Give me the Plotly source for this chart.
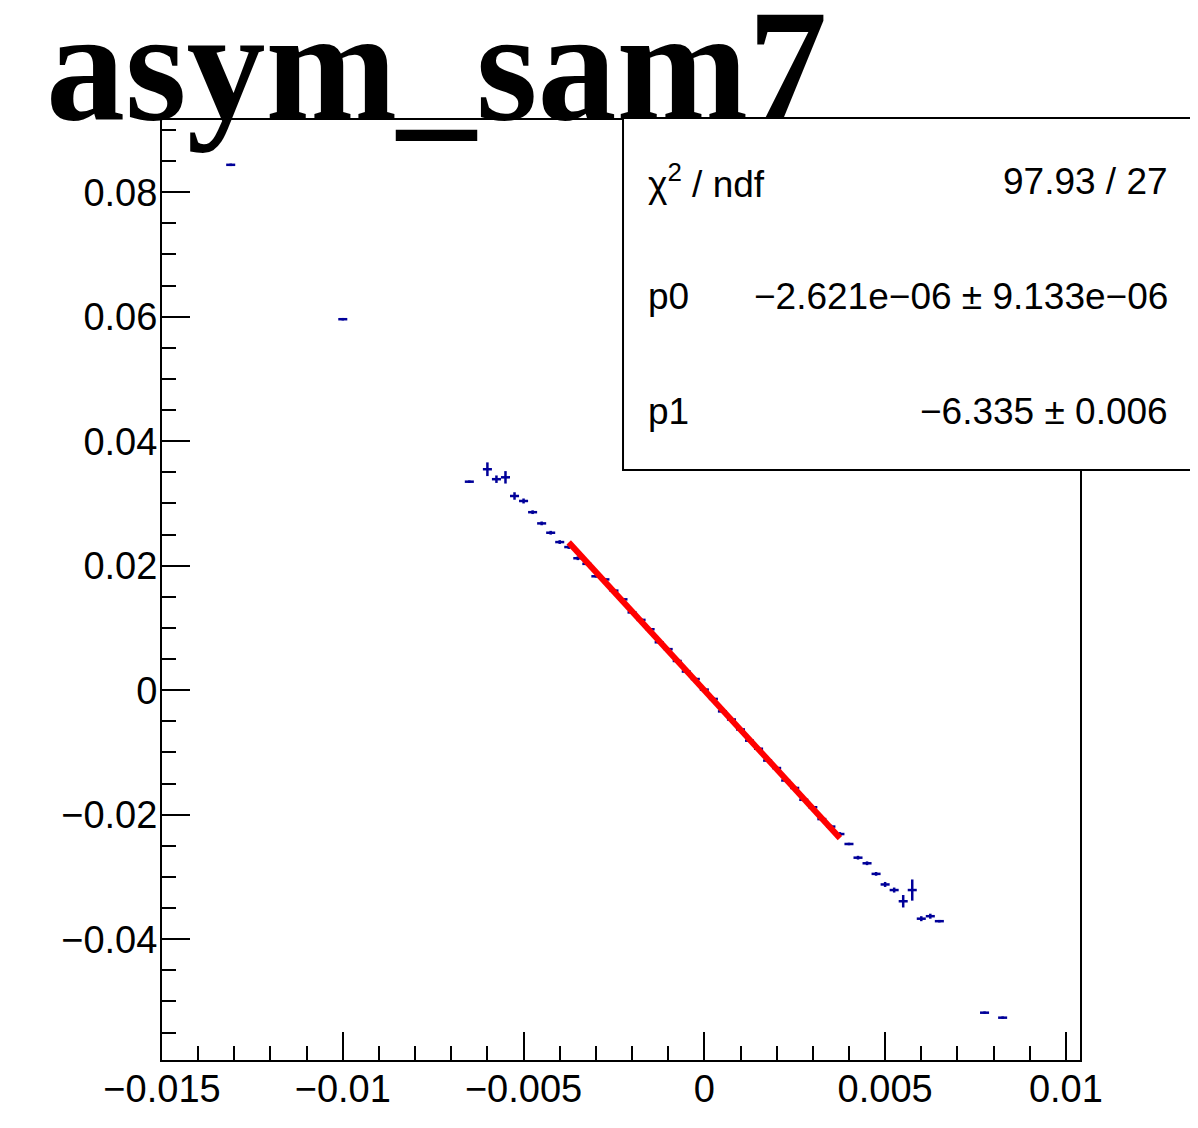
import plotly.graph_objects as go

# -- datos (perfil asym_sam7)
x_vals = [-0.0131, -0.01, -0.0065, -0.006, -0.00575, -0.0055, -0.00525, -0.005, -0.00475, -0.0045,
          -0.00425, -0.004, -0.00375, -0.0035, -0.00325, -0.003, -0.00275, -0.0025, -0.00225, -0.002,
          -0.00175, -0.0015, -0.00125, -0.001, -0.00075, -0.0005, -0.00025, 0.0, 0.00025, 0.0005,
          0.00075, 0.001, 0.00125, 0.0015, 0.00175, 0.002, 0.00225, 0.0025, 0.00275, 0.003,
          0.00325, 0.0035, 0.00375, 0.004, 0.00425, 0.0045, 0.00475, 0.005, 0.00525, 0.0055,
          0.00575, 0.006, 0.00625, 0.0065, 0.00775, 0.00825]
y_vals = [0.0844, 0.0596, 0.0335, 0.0355, 0.0339, 0.0342, 0.0312, 0.0304, 0.0286, 0.0268,
          0.0253, 0.0238, 0.0230, 0.0212, 0.0203, 0.0183, 0.0178, 0.0160, 0.0146, 0.0125,
          0.0113, 0.0098, 0.0077, 0.0066, 0.0047, 0.0030, 0.0018, 0.0001, -0.0014, -0.0034,
          -0.0047, -0.0063, -0.0081, -0.0094, -0.0113, -0.0125, -0.0145, -0.0157, -0.0176, -0.0188,
          -0.0207, -0.0219, -0.0231, -0.0247, -0.0269, -0.0278, -0.0295, -0.0312, -0.0321, -0.0339,
          -0.0321, -0.0367, -0.0363, -0.0371, -0.0518, -0.0526]
y_errs = [0.0002, 0.0002, 0.0002, 0.0011, 0.0006, 0.001, 0.0006, 0.0004, 0.0003, 0.0003,
          0.0003, 0.0003, 0.0003, 0.0003, 0.0002, 0.0002, 0.0002, 0.0002, 0.0002, 0.0002,
          0.0002, 0.0002, 0.0002, 0.0002, 0.0002, 0.0002, 0.0002, 0.0002, 0.0002, 0.0002,
          0.0002, 0.0002, 0.0002, 0.0002, 0.0002, 0.0002, 0.0002, 0.0002, 0.0002, 0.0002,
          0.0002, 0.0003, 0.0003, 0.0002, 0.0003, 0.0003, 0.0003, 0.0004, 0.0004, 0.001,
          0.0017, 0.0004, 0.0004, 0.0002, 0.0002, 0.0002]
x_err = 0.000125  # medio ancho de bin

# -- resultado del ajuste lineal
fit_range = [-0.00375, 0.00375]
chi2, ndf = 97.93, 27
p0, p0_err = -2.621e-06, 9.133e-06
p1, p1_err = -6.335, 0.006

# -- ticks
x_ticks = [-0.015, -0.01, -0.005, 0.0, 0.005, 0.01]
x_ticktext = ['\u22120.015', '\u22120.01', '\u22120.005', '0', '0.005', '0.01']
y_ticks = [-0.04, -0.02, 0.0, 0.02, 0.04, 0.06, 0.08]
y_ticktext = ['\u22120.04', '\u22120.02', '0', '0.02', '0.04', '0.06', '0.08']

azul = 'rgb(0,0,153)'
fuente = 'Liberation Sans, Arial, sans-serif'

fig = go.Figure()

fig.add_trace(go.Scatter(x=x_vals, y=y_vals, mode='markers',
                         marker=dict(size=1, color=azul, opacity=0),
                         error_x=dict(type='constant', value=x_err, color=azul, thickness=2.5, width=0),
                         error_y=dict(type='data', array=y_errs, color=azul, thickness=2.5, width=0),
                         showlegend=False))

# linea del ajuste p0 + p1*x
fit_y = [p0 + p1 * xv for xv in fit_range]
fig.add_trace(go.Scatter(x=fit_range, y=fit_y, mode='lines',
                         line=dict(color='red', width=6), showlegend=False))

fig.update_xaxes(range=[-0.015, 0.01039], tickmode='array', tickvals=x_ticks, ticktext=x_ticktext,
                 ticks='inside', ticklen=28, tickwidth=2, tickcolor='black', ticklabelstandoff=-6,
                 minor=dict(dtick=0.001, tick0=0, ticks='inside', ticklen=14, tickwidth=2, tickcolor='black'),
                 showline=True, linecolor='black', linewidth=2, mirror=True,
                 showgrid=False, zeroline=False,
                 tickfont=dict(family=fuente, size=38, color='black'))
fig.update_yaxes(range=[-0.0594, 0.0916], tickmode='array', tickvals=y_ticks, ticktext=y_ticktext,
                 ticks='inside', ticklen=28, tickwidth=2, tickcolor='black', ticklabelstandoff=-5,
                 minor=dict(dtick=0.005, tick0=0, ticks='inside', ticklen=14, tickwidth=2, tickcolor='black'),
                 showline=True, linecolor='black', linewidth=2, mirror=True,
                 showgrid=False, zeroline=False,
                 tickfont=dict(family=fuente, size=38, color='black'))

# caja de estadisticas
caja = [dict(type='rect', xref='paper', yref='paper', x0=0.5022, x1=1.14, y0=0.6277, y1=1.0021,
             line=dict(color='black', width=2), fillcolor='white', layer='above')]

filas = [('\u03c7<sup>2</sup> / ndf', '%.2f / %d' % (chi2, ndf), 0.935),
         ('p0', ('%.3e \u00b1 %.3e' % (p0, p0_err)).replace('-', '\u2212'), 0.812),
         ('p1', ('%.3f \u00b1 %.3f' % (p1, p1_err)).replace('-', '\u2212'), 0.690)]
notas = []
for izq, der, yy in filas:
    notas.append(dict(text=izq, xref='paper', yref='paper', x=0.527, y=yy, xanchor='left', yanchor='middle',
                      showarrow=False, font=dict(family=fuente, size=37, color='black')))
    notas.append(dict(text=der, xref='paper', yref='paper', x=1.098, y=yy, xanchor='right', yanchor='middle',
                      showarrow=False, font=dict(family=fuente, size=37, color='black')))

# titulo
notas.append(dict(text='<b>asym_sam7</b>', xref='paper', yref='paper', x=-0.128, y=0.963,
                  xanchor='left', yanchor='bottom', showarrow=False,
                  font=dict(family='Liberation Serif, Times New Roman, serif', size=158, color='black')))

fig.update_layout(width=1190, height=1120, margin=dict(l=154, r=118, t=112, b=68),
                  plot_bgcolor='white', paper_bgcolor='white',
                  shapes=caja, annotations=notas)

fig.write_html('out.html')
